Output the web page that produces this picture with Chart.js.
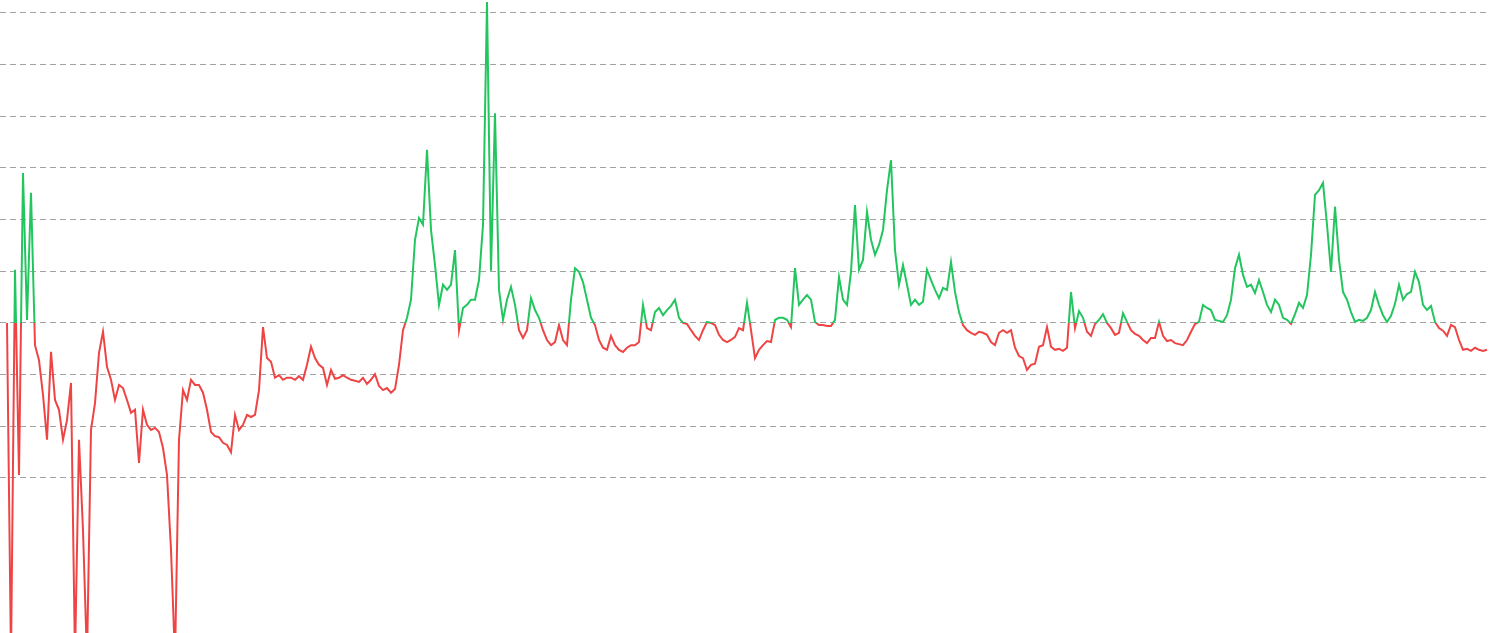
<!DOCTYPE html>
<html>
<head>
<meta charset="utf-8">
<script src="https://cdn.jsdelivr.net/npm/chart.js@4.4.1/dist/chart.umd.min.js"></script>
<style>
    html, body { margin: 0; padding: 0; background: #ffffff; }
    #wrap { width: 1490px; height: 633px; position: relative; }
</style>
</head>
<body>
<div id="wrap"><canvas id="ratioChart"></canvas></div>
<script>
// Oscillator values, one sample per step (threshold = 0, one grid step = 10)
const earlyValues = [
    0, -65, 10.3, -29.4, 29.0, 0.6, 25.2, -4.3, -7.2, -13.9, -22.6, -5.6, -14.9, -16.8, -22.6, -18.8,
    -11.6, -65, -22.6, -40.1, -65, -20.7, -15.5, -5.8, -1.7, -8.5, -11.0, -14.9, -12.0, -12.6, -14.9, -17.4,
    -16.8, -27.1, -16.8, -19.7, -20.7, -20.3, -21.1, -24.2, -29.4, -43.9, -65, -22.6, -13.0, -14.9, -11.0, -12.0,
    -12.0, -13.5, -16.8, -21.1, -21.9, -22.1, -23.2, -23.6, -25.0, -17.8, -20.7, -19.7, -17.8, -18.2, -17.8, -13.0,
    -0.8, -6.8, -7.5, -10.6, -10.1, -11.0, -10.6, -10.6, -11.0, -10.3, -11.0, -8.1, -4.6, -6.8, -8.1, -8.7,
    -12.0, -9.1, -10.8, -10.6, -10.1, -10.6, -11.0, -11.2, -11.4, -10.6, -11.8, -11.0, -9.9, -12.2, -13.0, -12.6,
    -13.5, -12.8, -8.1
];
const cycle2013 = [
    -1.4, 1.0, 4.5, 16.1, 20.3, 19.0, 33.5, 18.0, 11.2, 3.5, 7.4, 6.4, 7.4, 14.1, -1.4, 2.9,
    3.5, 4.5, 4.5, 8.3, 19.0, 62.1, 10.1, 40.6, 6.4, 0.6, 4.5, 7.0, 3.5, -1.4, -2.9, -1.4,
    4.8, 2.5, 1.0, -1.4, -3.3, -4.3, -3.7, -0.4, -3.3, -4.3, 4.5, 10.6, 9.9, 7.9, 4.5, 1.0,
    -0.4, -3.3, -4.8, -5.2, -2.5, -4.3, -5.2, -5.6, -4.8, -4.3, -4.3, -3.7, 3.5, -1.0, -1.4, 2.1,
    2.9, 1.5, 2.5, 3.3, 4.5, 1.0, 0, -0.2, -1.4, -2.5, -3.3, -1.4, 0.2, 0, -0.4, -2.3,
    -3.3, -3.7, -3.3, -2.7, -1.0, -1.4, 3.9, -1.4, -6.8, -5.2, -4.3, -3.5, -3.7
];
const cycle2017 = [
    0.6, 1.0, 1.0, 0.6, -0.8, 10.6, 3.5, 4.5, 5.4, 4.5, 0.2, -0.4, -0.4, -0.6, -0.6, 0.6,
    8.9, 4.5, 3.5, 9.9, 22.8, 10.3, 12.2, 21.5, 16.1, 13.2, 15.1, 18.0, 25.7, 31.5, 14.1, 7.4,
    11.2, 7.4, 3.5, 4.5, 3.5, 4.1, 10.3, 8.3, 6.4, 4.8, 6.8, 6.4, 11.8, 6.0, 2.1, -0.4,
    -1.4, -1.9, -2.3, -1.7, -1.9, -2.3, -3.7, -4.3, -1.9, -1.4, -1.9, -1.4, -4.8, -6.4, -6.8, -9.1,
    -8.1, -7.9, -4.6, -4.3, -0.8, -4.6, -5.2, -5.0, -5.4, -4.8, 6.0, -1.0, 2.3, 1.0, -1.7, -2.5,
    -0.2, 0.6, 1.7, 0, -1.0, -2.3, -1.9, 1.9, 0.2, -1.4, -2.1, -2.5, -3.3, -3.9, -2.9, -2.9,
    0.2, -2.5, -3.5, -3.3, -3.9, -4.1, -4.3, -3.3, -1.7, -0.2, 0.2
];
const cycle2021 = [
    3.5, 2.9, 2.5, 0.6, 0.4, 0.2, 1.5, 4.5, 10.6, 13.2, 9.3, 7.0, 7.4, 5.8, 8.3, 6.0,
    3.5, 2.1, 4.5, 3.5, 1.0, 0.6, -0.2, 1.7, 3.9, 2.9, 5.4, 13.2, 24.8, 25.7, 27.1, 19.0,
    9.9, 22.5, 12.2, 6.0, 4.5, 2.1, 0.2, 0.6, 0.4, 1.0, 2.5, 6.0, 3.5, 1.5, 0.2, 1.4,
    3.7, 7.4, 4.5, 5.6, 6.0, 9.9, 7.9, 3.5, 2.5, 3.3, 0.2, -1.0, -1.5, -2.5, -0.4, -0.8,
    -3.3, -5.2, -5.0, -5.4, -4.8, -5.2, -5.4, -5.2
];
const ratioValues = [...earlyValues, ...cycle2013, ...cycle2017, ...cycle2021];

const THRESHOLD = 0;
const Y_MIN = -60;
const Y_MAX = 62.5;
const GRID_STEP = 10;
const GRID_FLOOR = -30;   // no guide lines drawn below this level

const GREEN = '#22c55e';
const RED = '#ef4444';
const GRID = '#a3a3a3';

// green above the threshold, red below, split exactly at the threshold level
function thresholdStroke(context) {
    const chart = context.chart;
    const area = chart.chartArea;
    if (!area) return GREEN;
    const yT = chart.scales.y.getPixelForValue(THRESHOLD);
    let f = (yT - area.top) / (area.bottom - area.top);
    f = Math.min(1, Math.max(0, f));
    const g = chart.ctx.createLinearGradient(0, area.top, 0, area.bottom);
    g.addColorStop(0, GREEN);
    g.addColorStop(f, GREEN);
    g.addColorStop(f, RED);
    g.addColorStop(1, RED);
    return g;
}

const ctx = document.getElementById('ratioChart');
new Chart(ctx, {
    type: 'line',
    data: {
        datasets: [{
            data: ratioValues.map((v, i) => ({ x: i, y: v })),
            borderColor: thresholdStroke,
            borderWidth: 2,
            pointRadius: 0,
            tension: 0,
            fill: false
        }]
    },
    options: {
        responsive: true,
        maintainAspectRatio: false,
        animation: false,
        layout: { padding: { right: 2 } },
        plugins: {
            legend: { display: false },
            tooltip: { enabled: false }
        },
        scales: {
            x: {
                type: 'linear',
                min: -1.75,
                max: ratioValues.length - 1 + 0.25,
                display: false
            },
            y: {
                min: Y_MIN,
                max: Y_MAX,
                border: { display: false, dash: [6, 4] },
                ticks: { display: false, stepSize: GRID_STEP, includeBounds: false },
                grid: {
                    drawTicks: false,
                    lineWidth: 1,
                    color: c => (c.tick && c.tick.value >= GRID_FLOOR) ? GRID : 'rgba(0,0,0,0)'
                }
            }
        }
    }
});
</script>
</body>
</html>
